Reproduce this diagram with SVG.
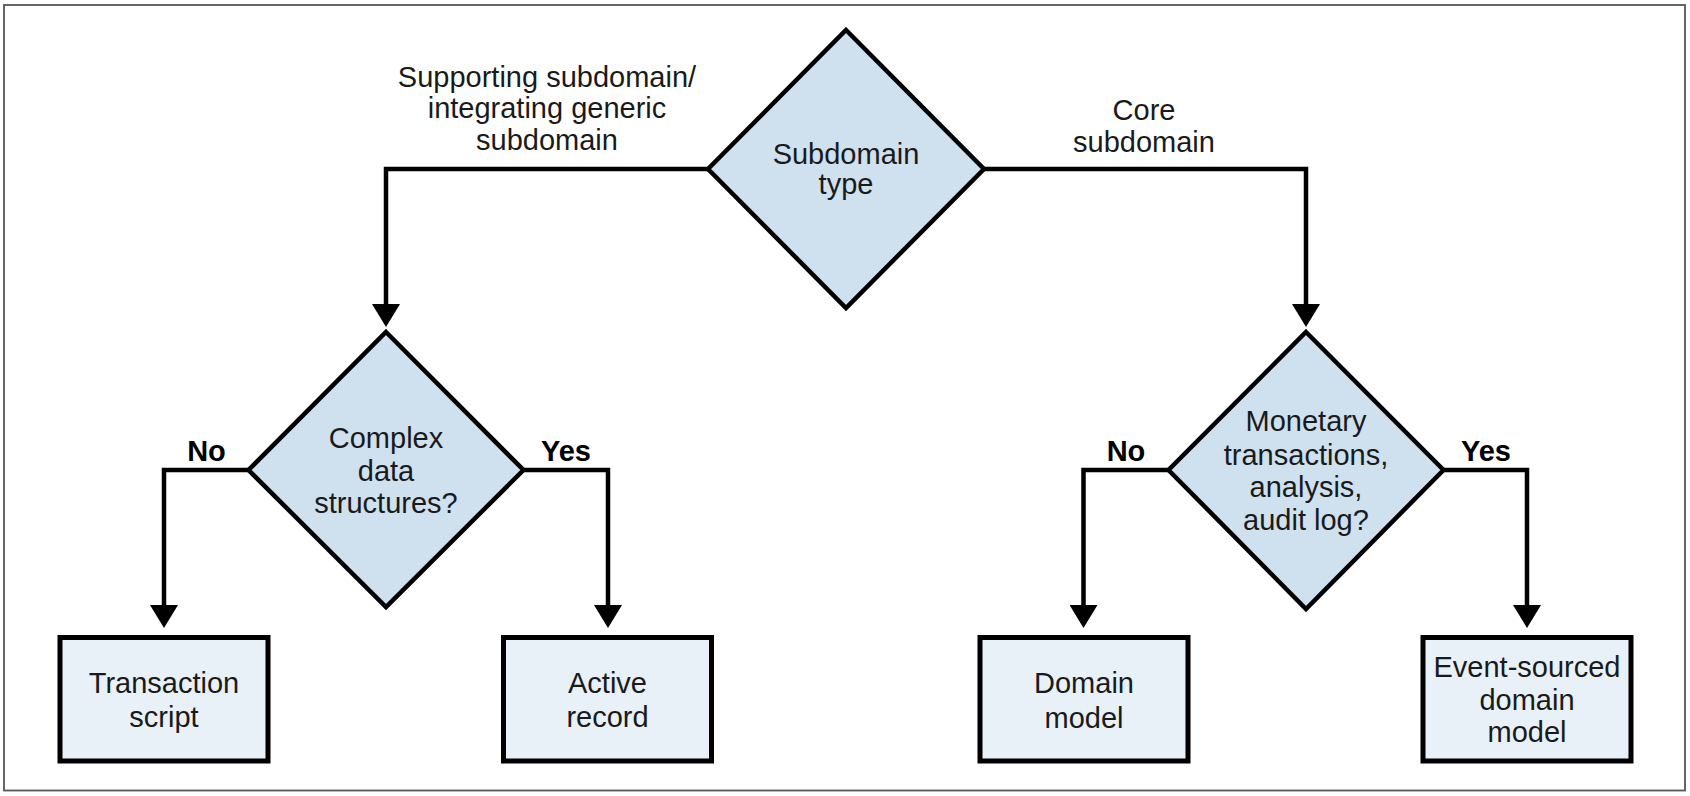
<svg xmlns="http://www.w3.org/2000/svg" width="1690" height="796" viewBox="0 0 1690 796">
<style>
  .frame { fill: #ffffff; stroke: #555555; stroke-width: 1.8; }
  .dia { fill: #cfe0ef; stroke: #000000; stroke-width: 4.5; stroke-linejoin: miter; }
  .box { fill: #e8f0f8; stroke: #000000; stroke-width: 5; }
  .conn { fill: none; stroke: #000000; stroke-width: 4.5; stroke-linejoin: miter; marker-end: url(#arrow); }
  text { font-family: "Liberation Sans", Arial, sans-serif; font-size: 29px; fill: #1a1a1a; text-anchor: middle; }
  .lbl { font-weight: bold; fill: #000000; }
</style>
<defs>
  <marker id="arrow" markerUnits="userSpaceOnUse" viewBox="0 0 23 28" markerWidth="23" markerHeight="28" refX="15" refY="14" orient="auto">
    <path d="M0,0 L23,14 L0,28 Z" fill="#000000"/>
  </marker>
</defs>
<rect class="frame" x="4" y="5" width="1681" height="785.5"/>

<g id="connectors">
  <path class="conn" d="M708,169 H386 V319"/>
  <path class="conn" d="M984,169 H1306 V319"/>
  <path class="conn" d="M248.5,470 H164 V620"/>
  <path class="conn" d="M523.5,470 H608 V620"/>
  <path class="conn" d="M1168.5,470 H1083.5 V620"/>
  <path class="conn" d="M1443.5,470 H1527 V620"/>
  <text x="547" y="87">Supporting subdomain/</text>
  <text x="547" y="118">integrating generic</text>
  <text x="547" y="150">subdomain</text>
  <text x="1144" y="120">Core</text>
  <text x="1144" y="152">subdomain</text>
  <text class="lbl" x="206.5" y="461">No</text>
  <text class="lbl" x="566" y="461">Yes</text>
  <text class="lbl" x="1126" y="461">No</text>
  <text class="lbl" x="1486" y="461">Yes</text>
</g>

<g id="subdomain-type">
  <polygon class="dia" points="846,30 984,169 846,308 708,169"/>
  <text x="846" y="164">Subdomain</text>
  <text x="846" y="194">type</text>
</g>

<g id="complex-data">
  <polygon class="dia" points="386,332 523.5,470 386,607 248.5,470"/>
  <text x="386" y="448">Complex</text>
  <text x="386" y="481">data</text>
  <text x="386" y="513">structures?</text>
</g>

<g id="monetary">
  <polygon class="dia" points="1306,332 1443.5,470 1306,609 1168.5,470"/>
  <text x="1306" y="431">Monetary</text>
  <text x="1306" y="465">transactions,</text>
  <text x="1306" y="497">analysis,</text>
  <text x="1306" y="530">audit log?</text>
</g>

<g id="transaction-script">
  <rect class="box" x="60" y="637.5" width="208" height="123.5"/>
  <text x="164" y="693">Transaction</text>
  <text x="164" y="727">script</text>
</g>

<g id="active-record">
  <rect class="box" x="503.5" y="637.5" width="208" height="123.5"/>
  <text x="607.5" y="693">Active</text>
  <text x="607.5" y="727">record</text>
</g>

<g id="domain-model">
  <rect class="box" x="980" y="637.5" width="208" height="123.5"/>
  <text x="1084" y="693">Domain</text>
  <text x="1084" y="728">model</text>
</g>

<g id="event-sourced">
  <rect class="box" x="1423" y="637.5" width="208" height="123.5"/>
  <text x="1527" y="677">Event-sourced</text>
  <text x="1527" y="710">domain</text>
  <text x="1527" y="742">model</text>
</g>
</svg>
